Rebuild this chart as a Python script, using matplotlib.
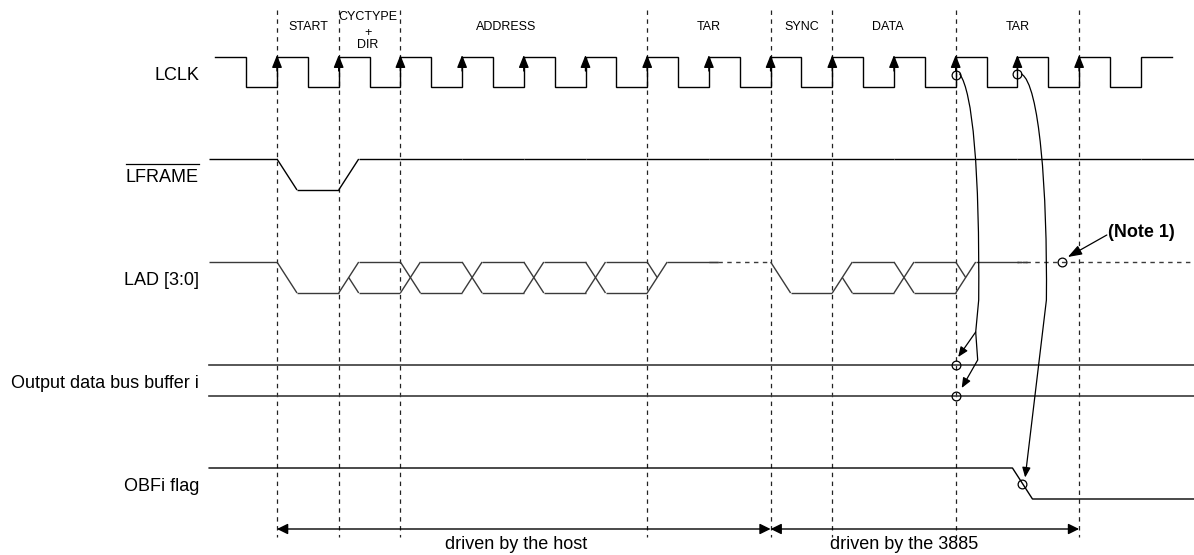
import matplotlib
matplotlib.use('Agg')
import matplotlib.pyplot as plt
from matplotlib.patches import FancyArrowPatch
from matplotlib.path import Path

plt.rcParams['font.family'] = ['Liberation Sans', 'DejaVu Sans']
plt.rcParams['lines.scale_dashes'] = False

# ---------------- data (time unit = one LCLK cycle, 0 = first START edge) -------------
clk_start, clk_end = -1.0, 14.5            # clock trace extent (cycles)
clk_arrow_edges = list(range(0, 14))        # rising edges marked with arrows
boundaries = [0, 1, 2, 6, 8, 9, 11, 13]     # dashed phase boundaries
phase_labels = ['START', 'CYCTYPE\n+\nDIR', 'ADDRESS', 'TAR', 'SYNC', 'DATA', 'TAR']
phase_label_pos = [0.5, 1.47, 3.71, 7.0, 8.5, 9.9, 12.0]   # label centres (cycles)
signal_names = ['LCLK', 'LFRAME', 'LAD [3:0]', 'Output data bus buffer i', 'OBFi flag']
cycles = list(range(-1, 15))                # cycle start times for state lists
lframe_states = ['hi', 'lo'] + ['hi'] * 14
lad_states = ['hi', 'lo', 'bus', 'bus', 'bus', 'bus', 'bus', 'z', 'z',
              'lo', 'bus', 'bus', 'z', 'z', 'z', 'z']
lad_solid_after_z = 1.15                    # cycles of driven-high before float
obf_fall_time = 11.92                       # OBFi falling edge (cycles)
driver_labels = ['driven by the host', 'driven by the 3885']
driver_starts = [0, 8]
driver_ends = [8, 13]
driver_label_pos = [3.87, 10.16]            # label centres (cycles)
note_text = '(Note 1)'
note_time = 12.72

# ---------------- layout ---------------------------------------------------------------
W, H = 1194, 555
T0_PX, P_PX = 277.0, 61.7                   # pixel of t=0, pixels per cycle
PX = 1.0 / P_PX                             # one pixel in cycle units
TRANS = 20 * PX                             # transition width
rows = {  # (high y, low y) in pixels
    'LCLK': (57, 87),
    'LFRAME': (159, 190),
    'LAD [3:0]': (262, 293),
    'Output data bus buffer i': (365, 396),
    'OBFi flag': (468, 499),
}
sig_left = -1.1
sig_right = (W - T0_PX) / P_PX + 0.2
LW = 1.0
DARK = '#222222'
GRAY = '#3a3a3a'
DASH = (0, (3.2, 3.2))

fig = plt.figure(figsize=(W / 100, H / 100), dpi=100)
ax = fig.add_axes([0, 0, 1, 1])
ax.set_xlim(-T0_PX / P_PX, (W - T0_PX) / P_PX)
ax.set_ylim(H, 0)
ax.axis('off')

# ---------------- dashed boundaries ----------------------------------------------------
for b in boundaries:
    ax.plot([b, b], [10, 537], color=DARK, lw=0.9, ls=DASH, zorder=1)

# ---------------- phase labels ---------------------------------------------------------
for lab, xc in zip(phase_labels, phase_label_pos):
    if '\n' in lab:
        parts = lab.split('\n')
        for part, yb in zip(parts, [20, 36, 48.5]):
            ax.text(xc, yb, part, ha='center', va='baseline', fontsize=9)
    else:
        ax.text(xc, 30.5, lab, ha='center', va='baseline', fontsize=9)

# ---------------- LCLK -----------------------------------------------------------------
hi, lo = rows['LCLK']
xs, ys = [clk_start], [hi]
t = clk_start
level = hi
while t < clk_end - 1e-9:
    t2 = min(t + 0.5, clk_end)
    xs.append(t2); ys.append(level)
    if t2 < clk_end - 1e-9:
        level = lo if level == hi else hi
        xs.append(t2); ys.append(level)
    t = t2
ax.plot(xs, ys, color='black', lw=LW, solid_joinstyle='miter', zorder=3)
for e in clk_arrow_edges:
    ax.add_patch(FancyArrowPatch((e, hi + 14), (e, hi - 2),
                                 arrowstyle='-|>,head_length=0.75,head_width=0.3',
                                 mutation_scale=10, color='black', lw=LW,
                                 shrinkA=0, shrinkB=0, zorder=4))


# ---------------- state-driven signals ------------------------------------------------
def draw_states(states, hi, lo, color):
    mid = (hi + lo) / 2
    segs_solid = []
    segs_dash = []
    n = len(states)
    for i, st in enumerate(states):
        t = cycles[i]
        prev = states[i - 1] if i > 0 else st
        t_start = sig_left if i == 0 else t
        t_end = cycles[i + 1] if i + 1 < n else sig_right
        body_start = t_start
        if i > 0 and (st != prev or (st == 'bus' and prev == 'bus')):
            body_start = t + TRANS
            if (prev == 'hi' and st == 'lo') or (prev == 'z' and st == 'lo'):
                segs_solid.append(([t, t + TRANS], [hi, lo]))
            elif prev == 'lo' and st == 'hi':
                segs_solid.append(([t, t + TRANS], [lo, hi]))
            elif prev == 'lo' and st == 'bus':
                segs_solid.append(([t, t + TRANS], [lo, hi]))
                segs_solid.append(([t + TRANS / 2, t + TRANS], [mid, lo]))
            elif prev == 'bus' and st == 'bus':
                segs_solid.append(([t, t + TRANS], [lo, hi]))
                segs_solid.append(([t, t + TRANS], [hi, lo]))
            elif prev == 'bus' and st == 'z':
                segs_solid.append(([t, t + TRANS / 2], [hi, mid]))
                segs_solid.append(([t, t + TRANS], [lo, hi]))
        if st == 'hi':
            segs_solid.append(([body_start, t_end], [hi, hi]))
        elif st == 'lo':
            segs_solid.append(([body_start, t_end], [lo, lo]))
        elif st == 'bus':
            segs_solid.append(([body_start, t_end], [hi, hi]))
            segs_solid.append(([body_start, t_end], [lo, lo]))
        elif st == 'z':
            if prev != 'z':
                cut = t + lad_solid_after_z
                segs_solid.append(([body_start, cut], [hi, hi]))
                segs_dash.append(([cut, t_end], [hi, hi]))
            else:
                segs_dash.append(([t_start, t_end], [hi, hi]))
    for x, y in segs_solid:
        ax.plot(x, y, color=color, lw=LW, solid_capstyle='butt', zorder=3)
    for x, y in segs_dash:
        ax.plot(x, y, color=color, lw=LW, ls=DASH, zorder=3)


draw_states(lframe_states, *rows['LFRAME'], 'black')
draw_states(lad_states, *rows['LAD [3:0]'], GRAY)

# output data bus buffer
bhi, blo = rows['Output data bus buffer i']
ax.plot([sig_left, sig_right], [bhi, bhi], color=GRAY, lw=1.2, zorder=3)
ax.plot([sig_left, sig_right], [blo, blo], color=GRAY, lw=1.2, zorder=3)

# OBFi flag
ohi, olo = rows['OBFi flag']
ax.plot([sig_left, obf_fall_time, obf_fall_time + TRANS, sig_right],
        [ohi, ohi, olo, olo], color='black', lw=LW, zorder=3)

# ---------------- signal names -------------------------------------------------------
name_x = (199 - T0_PX) / P_PX
name_texts = {}
for nm in signal_names:
    h_, l_ = rows[nm]
    name_texts[nm] = ax.text(name_x, (h_ + l_) / 2 + 7.5, nm, ha='right',
                             va='baseline', fontsize=13)

# ---------------- event circles & causal arrows ---------------------------------------
circ = dict(marker='o', ms=6.3, mfc='none', mec='black', mew=0.9, ls='none', zorder=5)
ax.plot([11, 12], [75, 74], **circ)
ax.plot([11, 11], [bhi, blo], **circ)
obf_mid_t = obf_fall_time + TRANS / 2
ax.plot([obf_mid_t], [(ohi + olo) / 2], **circ)
lhi, llo = rows['LAD [3:0]']
ax.plot([note_time], [lhi], **circ)

arrow_kw = dict(arrowstyle='-|>,head_length=0.6,head_width=0.25', mutation_scale=10,
                color='black', lw=0.9, zorder=6)

p1 = Path([(11 + 4 * PX, 74), (11 + 17 * PX, 92), (11 + 24 * PX, 170), (11 + 23 * PX, 300),
           (11 + 20 * PX, 332), (11 + 2.5 * PX, bhi - 8)],
          [Path.MOVETO, Path.CURVE4, Path.CURVE4, Path.CURVE4, Path.LINETO, Path.LINETO])
ax.add_patch(FancyArrowPatch(path=p1, **arrow_kw))
p2 = Path([(11 + 20 * PX, 332), (11 + 22 * PX, 360), (11 + 6 * PX, blo - 8)],
          [Path.MOVETO, Path.LINETO, Path.LINETO])
ax.add_patch(FancyArrowPatch(path=p2, **arrow_kw))
oc_y = (ohi + olo) / 2
p3 = Path([(12 + 4 * PX, 74), (12 + 22 * PX, 84), (12 + 30 * PX, 190), (12 + 29 * PX, 300),
           (obf_mid_t + 2.7 * PX, oc_y - 6)],
          [Path.MOVETO, Path.CURVE4, Path.CURVE4, Path.CURVE4, Path.LINETO])
ax.add_patch(FancyArrowPatch(path=p3, **arrow_kw))

# Note 1
ax.text(note_time + 46 * PX, 237, note_text, ha='left', va='baseline',
        fontsize=13, fontweight='bold')
ax.add_patch(FancyArrowPatch((note_time + 45 * PX, 235), (note_time + 6 * PX, lhi - 5),
                             arrowstyle='-|>,head_length=0.85,head_width=0.3',
                             mutation_scale=10, color='black', lw=0.9,
                             shrinkA=0, shrinkB=0, zorder=6))

# ---------------- driver arrows -------------------------------------------------------
for lab, s, e, xc in zip(driver_labels, driver_starts, driver_ends, driver_label_pos):
    ax.add_patch(FancyArrowPatch((s, 529), (e, 529),
                                 arrowstyle='<|-|>,head_length=0.65,head_width=0.32',
                                 mutation_scale=10, color='black', lw=1.0,
                                 shrinkA=0, shrinkB=0, zorder=6))
    ax.text(xc, 549, lab, ha='center', va='baseline', fontsize=13)

# overline on LFRAME
fig.canvas.draw()
r = fig.canvas.get_renderer()
bb = name_texts['LFRAME'].get_window_extent(renderer=r)
inv = ax.transData.inverted()
(x0, _), (x1, _) = inv.transform([(bb.x0, 0), (bb.x1, 0)])
ax.plot([x0, x1], [164, 164], color='black', lw=0.9)

fig.savefig('out.png', dpi=100)
